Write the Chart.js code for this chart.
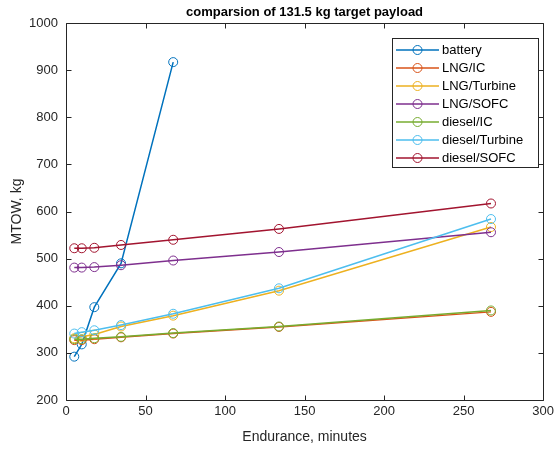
<!DOCTYPE html>
<html><head><meta charset="utf-8">
<script src="https://cdn.jsdelivr.net/npm/chart.js@4"></script>
<style>html,body{margin:0;padding:0;background:#fff}#wrap{width:558px;height:450px}</style>
</head><body><div id="wrap"><canvas id="c" width="558" height="450"></canvas></div>
<script>
// ---- data ----
const endurance = [5.2, 9.9, 17.8, 34.6, 67.4, 133.9, 267.2];
const seriesNames = ['battery', 'LNG/IC', 'LNG/Turbine', 'LNG/SOFC', 'diesel/IC', 'diesel/Turbine', 'diesel/SOFC'];
const battery       = [292, 318, 397, 490, 917];
const lngIC         = [327, 327, 329, 333, 341, 355, 387];
const lngTurbine    = [331, 334, 339, 356, 379, 432, 567];
const lngSOFC       = [481, 481, 482, 486, 496, 514, 556];
const dieselIC      = [329, 329, 331, 334, 342, 356, 390];
const dieselTurbine = [341, 344, 348, 359, 383, 437, 584];
const dieselSOFC    = [522, 522, 523, 529, 540, 563, 617];
const xTicks = [0, 50, 100, 150, 200, 250, 300];
const yTicks = [200, 300, 400, 500, 600, 700, 800, 900, 1000];
const titleText = 'comparsion of 131.5 kg target payload';
const xTitle = 'Endurance, minutes';
const yTitle = 'MTOW, kg';

const colors = ['#0072BD', '#D95319', '#EDB120', '#7E2F8E', '#77AC30', '#4DBEEE', '#A2142F'];
const allSeries = [battery, lngIC, lngTurbine, lngSOFC, dieselIC, dieselTurbine, dieselSOFC];
const TXT = '#262626';
const FONT = '"Liberation Sans", Arial, Helvetica, sans-serif';

const datasets = allSeries.map((vals, i) => ({
  label: seriesNames[i],
  data: vals.map((v, j) => ({x: endurance[j], y: v})),
  borderColor: colors[i],
  backgroundColor: 'rgba(0,0,0,0)',
  borderWidth: 1.5,
  pointRadius: 4.5,
  pointBorderWidth: 1,
  pointBackgroundColor: 'rgba(0,0,0,0)',
  pointBorderColor: colors[i],
  tension: 0,
  order: allSeries.length - i
}));

const decor = {
  id: 'decor',
  afterDatasetsDraw(chart) {
    const ctx = chart.ctx, a = chart.chartArea;
    const xs = chart.scales.x, ys = chart.scales.y;
    ctx.save();
    ctx.strokeStyle = TXT; ctx.lineWidth = 1;
    const L = Math.round(a.left) + 0.5, R = Math.round(a.right) + 0.5;
    const T = Math.round(a.top) + 0.5, B = Math.round(a.bottom) + 0.5;
    ctx.beginPath();
    ctx.rect(L, T, R - L, B - T);
    const tl = 5;
    xTicks.forEach(v => {
      const px = Math.round(xs.getPixelForValue(v)) + 0.5;
      ctx.moveTo(px, B); ctx.lineTo(px, B - tl);
      ctx.moveTo(px, T); ctx.lineTo(px, T + tl);
    });
    yTicks.forEach(v => {
      const py = Math.round(ys.getPixelForValue(v)) + 0.5;
      ctx.moveTo(L, py); ctx.lineTo(L + tl, py);
      ctx.moveTo(R, py); ctx.lineTo(R - tl, py);
    });
    ctx.stroke();

    // title
    ctx.fillStyle = '#000';
    ctx.font = 'bold 13px ' + FONT;
    ctx.textAlign = 'center'; ctx.textBaseline = 'middle';
    ctx.fillText(titleText, (a.left + a.right) / 2, 12);
    // axis titles
    ctx.fillStyle = TXT;
    ctx.font = '14px ' + FONT;
    ctx.fillText(xTitle, (a.left + a.right) / 2, 437);
    ctx.save();
    ctx.translate(17, (a.top + a.bottom) / 2);
    ctx.rotate(-Math.PI / 2);
    ctx.fillText(yTitle, 0, 0);
    ctx.restore();

    // legend
    const bx = 392, by = 38, bw = 146, bh = 129;
    ctx.fillStyle = '#fff';
    ctx.fillRect(bx, by, bw, bh);
    ctx.strokeStyle = '#262626'; ctx.lineWidth = 1;
    ctx.strokeRect(bx + 0.5, by + 0.5, bw, bh);
    ctx.font = '13px ' + FONT;
    ctx.textAlign = 'left'; ctx.textBaseline = 'middle';
    chart.data.datasets.forEach((ds, i) => {
      const y = 50 + i * 18;
      ctx.strokeStyle = ds.borderColor; ctx.lineWidth = 1.5;
      ctx.beginPath(); ctx.moveTo(396, y); ctx.lineTo(439, y); ctx.stroke();
      ctx.lineWidth = 1;
      ctx.beginPath(); ctx.arc(417.5, y, 4.5, 0, Math.PI * 2); ctx.stroke();
      ctx.fillStyle = '#000';
      ctx.fillText(ds.label, 442, y + 0.5);
    });
    ctx.restore();
  }
};

new Chart(document.getElementById('c'), {
  type: 'line',
  data: {datasets},
  options: {
    responsive: false,
    animation: false,
    devicePixelRatio: 1,
    layout: {padding: {left: 21, right: 14, top: 23, bottom: 10}},
    plugins: {legend: {display: false}, tooltip: {enabled: false}, title: {display: false}},
    scales: {
      x: {
        type: 'linear', min: 0, max: 300,
        afterBuildTicks: s => { s.ticks = xTicks.map(v => ({value: v})); },
        afterFit: s => { s.height = 40; },
        grid: {display: false, drawTicks: false},
        border: {display: false},
        ticks: {color: TXT, font: {family: FONT, size: 13}, padding: 4, maxRotation: 0,
                callback: v => String(v)}
      },
      y: {
        type: 'linear', min: 200, max: 1000,
        afterBuildTicks: s => { s.ticks = yTicks.map(v => ({value: v})); },
        afterFit: s => { s.width = 45; },
        grid: {display: false, drawTicks: false},
        border: {display: false},
        ticks: {color: TXT, font: {family: FONT, size: 13}, padding: 8,
                callback: v => String(v)}
      }
    }
  },
  plugins: [decor]
});
</script>
</body></html>
